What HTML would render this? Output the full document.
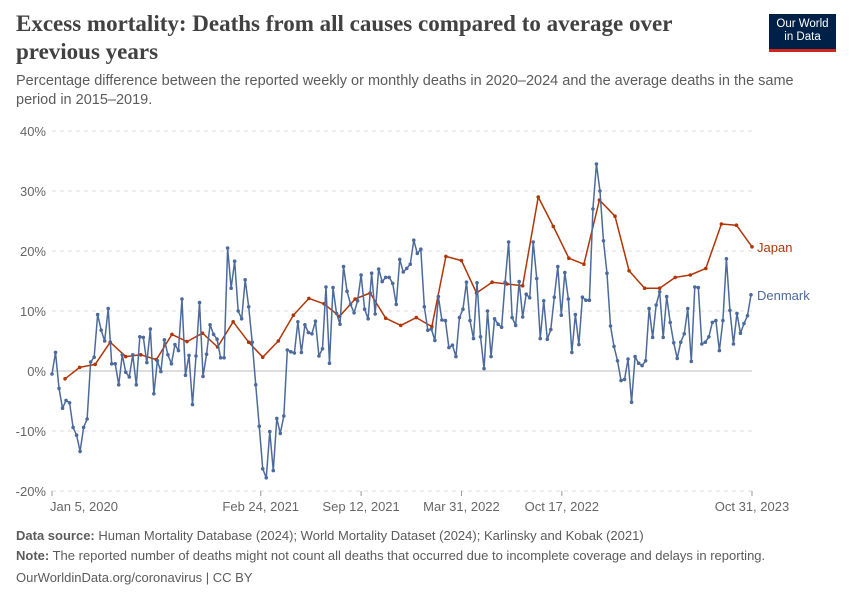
<!DOCTYPE html>
<html><head><meta charset="utf-8"><style>
body{margin:0;background:#fff;font-family:"Liberation Sans",sans-serif;}
#wrap{position:relative;width:850px;height:600px;overflow:hidden;}
h1{position:absolute;left:16px;top:10px;margin:0;font-family:"Liberation Serif",serif;font-weight:bold;font-size:23px;line-height:28px;color:#414141;width:720px;}
.sub{position:absolute;left:16px;top:72px;font-size:14.5px;line-height:19px;color:#5b5b5b;width:780px;}
.logo{position:absolute;left:769px;top:14px;width:67px;height:38px;background:#002147;color:#fff;font-size:11.5px;line-height:13px;text-align:center;padding-top:4px;box-sizing:border-box;border-bottom:3px solid #ce261e;}
.foot{position:absolute;left:16px;font-size:13px;color:#5b5b5b;}
.foot b{color:#5b5b5b;}
</style></head><body>
<div id="wrap">
<h1>Excess mortality: Deaths from all causes compared to average over previous years</h1>
<div class="logo">Our World<br>in Data</div>
<div class="sub">Percentage difference between the reported weekly or monthly deaths in 2020–2024 and the average deaths in the same period in 2015–2019.</div>
<svg id="chart" width="850" height="600" style="position:absolute;left:0;top:0"></svg>
<div class="foot" style="top:528px"><b>Data source:</b> Human Mortality Database (2024); World Mortality Dataset (2024); Karlinsky and Kobak (2021)</div>
<div class="foot" style="top:548px"><b>Note:</b> The reported number of deaths might not count all deaths that occurred due to incomplete coverage and delays in reporting.</div>
<div class="foot" style="top:570px">OurWorldinData.org/coronavirus | CC BY</div>
</div>
<script>
const denmarkValues=[-0.5,3.1,-2.9,-6.2,-4.9,-5.3,-9.4,-10.7,-13.4,-9.4,-8,1.5,2.3,9.4,6.8,5,10.4,1.2,1.2,-2.3,2.7,-0.2,-1,2.7,-2.3,5.7,5.6,1.4,7,-3.8,1.7,-0.1,5.2,2.7,1.2,4.4,3.4,12,-0.7,2.6,-5.6,2.5,11.4,-0.9,2.8,7.7,6.1,5.3,2.2,2.2,20.5,13.8,18.3,10,8.7,15.2,10.7,4.8,-2.3,-9.2,-16.3,-17.8,-10.1,-16.6,-7.9,-10.4,-7.5,3.5,
3.2,3,8.2,3.1,7.7,6.4,6.2,8.3,2.5,3.7,14,1.3,13.9,9.6,7.8,17.4,13.3,11.1,9.7,11.7,16,10.3,8.7,16.3,9.5,17,14.9,15.6,15.6,14.6,11.1,18.6,16.5,17.1,17.8,21.8,19.6,20.3,10.7,6.8,7,5.1,12.4,8.5,8.4,3.9,4.3,2.4,8.9,10.3,14.8,8.4,5.4,14.7,5.7,0.4,10,2.4,8.7,7.8,7.3,14.8,21.5,8.9,7.6,14.9,
9,12.8,12.2,21.5,15.4,5.4,11.7,5.3,6.9,12.3,17.4,9.3,16.4,12,3.1,9.4,4.4,12.3,11.8,11.8,27,34.5,30,21.7,16.3,7.5,4.1,1.7,-1.6,-1.4,2,-5.2,2.4,1.3,0.9,1.7,10.4,5.6,11,13.2,5.6,12.4,8.1,4.7,2.1,4.8,6.2,10.4,1.6,14,13.9,4.5,4.8,5.7,8.1,8.4,3.4,8.4,18.7,10.1,4.5,9.6,6.3,7.9,9.2,12.7];
const japanValues=[-1.3,0.6,1.1,4.8,2.4,2.7,1.9,6.1,4.9,6.3,4,8.2,4.8,2.3,5.0,9.3,12.1,11.2,9.1,12,13,8.8,7.6,8.9,7.4,19.1,18.4,13,14.8,14.5,14.2,29,24.1,18.8,17.8,28.5,25.8,16.7,13.8,13.8,15.6,16,17.1,24.5,24.3,20.7];
const yTicks=[40,30,20,10,0,-10,-20];
const xTickLabels=["Jan 5, 2020","Feb 24, 2021","Sep 12, 2021","Mar 31, 2022","Oct 17, 2022","Oct 31, 2023"];
const xTickDates=["2020-01-05","2021-02-24","2021-09-12","2022-03-31","2022-10-17","2023-10-31"];

const NS="http://www.w3.org/2000/svg";
const svg=document.getElementById('chart');
const t0=Date.UTC(2020,0,5), t1=Date.UTC(2023,9,31);
const X0=52,X1=752,Y0=371,PX=6;
function xs(t){return X0+(t-t0)/(t1-t0)*(X1-X0);}
function ys(v){return Y0-v*PX;}
function mk(tag,attrs){const e=document.createElementNS(NS,tag);for(const k in attrs)e.setAttribute(k,attrs[k]);svg.appendChild(e);return e;}
yTicks.forEach(v=>{
  const l=mk('line',{x1:X0,x2:X1,y1:ys(v),y2:ys(v),stroke:v===0?'#bbb':'#ddd','stroke-dasharray':v===0?'':'4,4','stroke-width':1});
  
  
  const t=mk('text',{x:46,y:ys(v)+5,'text-anchor':'end','font-size':13,fill:'#666','font-family':'Liberation Sans'});
  t.textContent=v+'%';
  
  
});
xTickDates.forEach((d,i)=>{
  const p=d.split('-').map(Number);const x=xs(Date.UTC(p[0],p[1]-1,p[2]));
  const tk=mk('line',{x1:x,x2:x,y1:491,y2:496,stroke:'#999'});
  
  
  const t=mk('text',{x:i===0?x-2:(i===xTickDates.length-1?x:x),y:511,'text-anchor':i===0?'start':'middle','font-size':13,fill:'#666','font-family':'Liberation Sans'});
  t.textContent=xTickLabels[i];
  
  
});
function series(vals,dateFn,color,name,label){
  const pts=vals.map((v,i)=>[xs(dateFn(i)),ys(v)]);
  const p=mk('polyline',{points:pts.map(q=>q.join(',')).join(' '),fill:'none',stroke:color,'stroke-width':1.5,'stroke-linejoin':'round'});
  
  
  pts.forEach(q=>{const c=mk('circle',{cx:q[0],cy:q[1],r:1.8,fill:color});
    
    });
  const last=pts[pts.length-1];
  const t=mk('text',{x:757,y:last[1]+5,'font-size':13,fill:color,'font-family':'Liberation Sans'});
  t.textContent=label;
  
  
}
series(japanValues,i=>Date.UTC(2020,i+1,0),'#b13507','japan','Japan');
series(denmarkValues,i=>t0+i*7*86400000,'#4c6a9c','denmark','Denmark');
</script>
</body></html>
